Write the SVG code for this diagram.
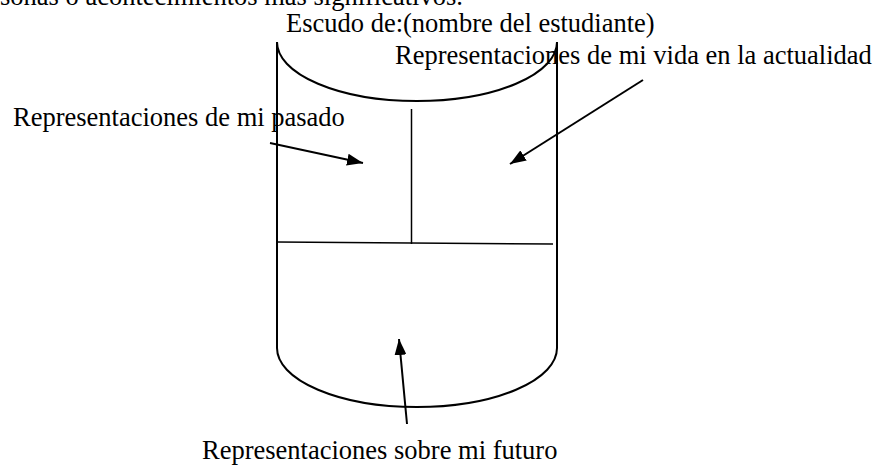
<svg xmlns="http://www.w3.org/2000/svg" width="876" height="466" viewBox="0 0 876 466">
<style>
text{font-family:"Liberation Serif","Times New Roman",serif;font-size:26.5px;fill:#000}
.shape{fill:none;stroke:#000;stroke-width:2}
.div{fill:none;stroke:#000;stroke-width:1.5}
.arrow{fill:none;stroke:#000;stroke-width:2;marker-end:url(#ah)}
</style>
<defs>
<marker id="ah" viewBox="0 0 16 12" refX="16" refY="6" markerWidth="16" markerHeight="12" markerUnits="userSpaceOnUse" orient="auto">
<path d="M0,0 L16,6 L0,12 z" fill="#000"/>
</marker>
</defs>
<rect width="876" height="466" fill="#fff"/>
<text x="0" y="5">sonas o acontecimientos más significativos.</text>
<g id="shield">
<path class="shape" d="M277,42 A140,59 0 0 0 557,42"/>
<path class="shape" d="M277,42 L277,348 A140,59 0 0 0 557,348 L557,42"/>
<line class="div" x1="411.5" y1="109" x2="411.5" y2="244"/>
<line class="div" x1="277" y1="242" x2="553" y2="244"/>
</g>
<g id="title"><text x="286" y="32">Escudo de:(nombre del estudiante)</text></g>
<g id="pasado"><text x="13" y="126">Representaciones de mi pasado</text></g>
<g id="actualidad"><text x="395" y="64">Representaciones de mi vida en la actualidad</text></g>
<g id="futuro"><text x="202" y="459">Representaciones sobre mi futuro</text></g>
<g id="connectors">
<line class="arrow" x1="270" y1="143" x2="363" y2="163"/>
<line class="arrow" x1="643" y1="80" x2="510" y2="164"/>
<line class="arrow" x1="407" y1="424" x2="399" y2="339"/>
</g>
</svg>
